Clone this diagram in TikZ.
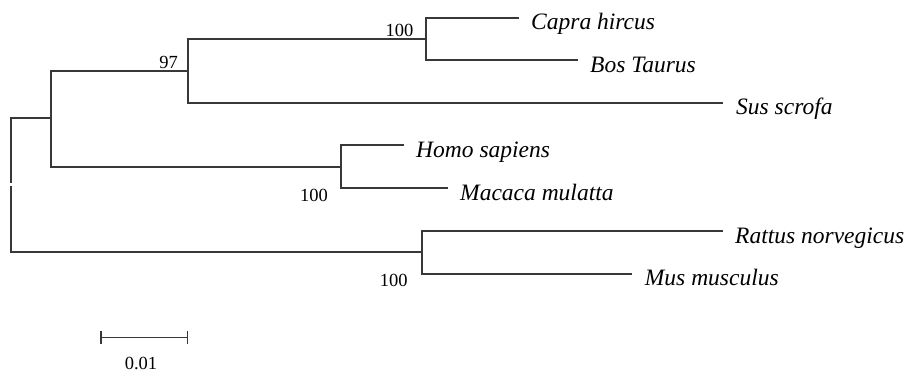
\documentclass[tikz,border=0pt]{standalone}
\usepackage{fontspec}
\setmainfont{Liberation Serif}
\usetikzlibrary{arrows.meta}
\begin{document}
\begin{tikzpicture}[x=1pt,y=-1pt,
  branch/.style={draw=black!78,line width=1.8pt},
  taxon/.style={anchor=base west,inner sep=0pt,font=\fontsize{23.5}{26}\selectfont\itshape},
  support/.style={anchor=base east,inner sep=0pt,font=\fontsize{18.5}{20}\selectfont},
  scalelabel/.style={anchor=base,inner sep=0pt,font=\fontsize{18.5}{20}\selectfont}]
\useasboundingbox (0,0) rectangle (909,372);

% internal nodes
\coordinate (rootTop) at (11,183);
\coordinate (rootBot) at (11,185.5);
\coordinate (A) at (51,118);
\coordinate (B) at (188,70.7);
\coordinate (C) at (426,38.7);
\coordinate (D) at (341,166.7);
\coordinate (E) at (421.7,251.7);

% branch tips
\coordinate (capra) at (519,17.7);
\coordinate (bos) at (578,60);
\coordinate (sus) at (723,102.7);
\coordinate (homo) at (404,145.3);
\coordinate (macaca) at (448,188.3);
\coordinate (rattus) at (723,231);
\coordinate (mus) at (631.7,273.7);

% branches
\draw[branch] (rootTop) |- (A);
\draw[branch] (rootBot) |- (E);
\draw[branch] (A) |- (B);
\draw[branch] (A) |- (D);
\draw[branch] (B) |- (C);
\draw[branch] (B) |- (sus);
\draw[branch] (C) |- (capra);
\draw[branch] (C) |- (bos);
\draw[branch] (D) |- (homo);
\draw[branch] (D) |- (macaca);
\draw[branch] (E) |- (rattus);
\draw[branch] (E) |- (mus);

% taxon labels
\node[taxon] (capraL) at ([xshift=12pt,yshift=-12pt]capra) {Capra hircus};
\node[taxon] (bosL) at ([xshift=12pt,yshift=-12pt]bos) {Bos Taurus};
\node[taxon] (susL) at ([xshift=13pt,yshift=-12pt]sus) {Sus scrofa};
\node[taxon] (homoL) at ([xshift=12pt,yshift=-12pt]homo) {Homo sapiens};
\node[taxon] (macacaL) at ([xshift=12pt,yshift=-12pt]macaca) {Macaca mulatta};
\node[taxon] (rattusL) at ([xshift=12pt,yshift=-12pt]rattus) {Rattus norvegicus};
\node[taxon] (musL) at ([xshift=13pt,yshift=-12pt]mus) {Mus musculus};

% bootstrap values
\node[support] (bsB) at ([xshift=-10pt,yshift=2.5pt]B) {97};
\node[support] (bsC) at ([xshift=-12.5pt,yshift=2.7pt]C) {100};
\node[support] (bsD) at ([xshift=-13pt,yshift=-12.7pt]D |- macaca) {100};
\node[support] (bsE) at ([xshift=-14pt,yshift=-12.3pt]E |- mus) {100};

% scale bar
\coordinate (sbL) at (100,337.3);
\coordinate (sbR) at (188.3,337.3);
\draw[branch,line width=1.5pt,{Bar[width=13.5pt,line width=1.5pt]}-{Bar[width=13.5pt,line width=1.5pt]}] (sbL) -- (sbR);
\node[scalelabel] (sbText) at (141,369.3) {0.01};
\end{tikzpicture}
\end{document}
